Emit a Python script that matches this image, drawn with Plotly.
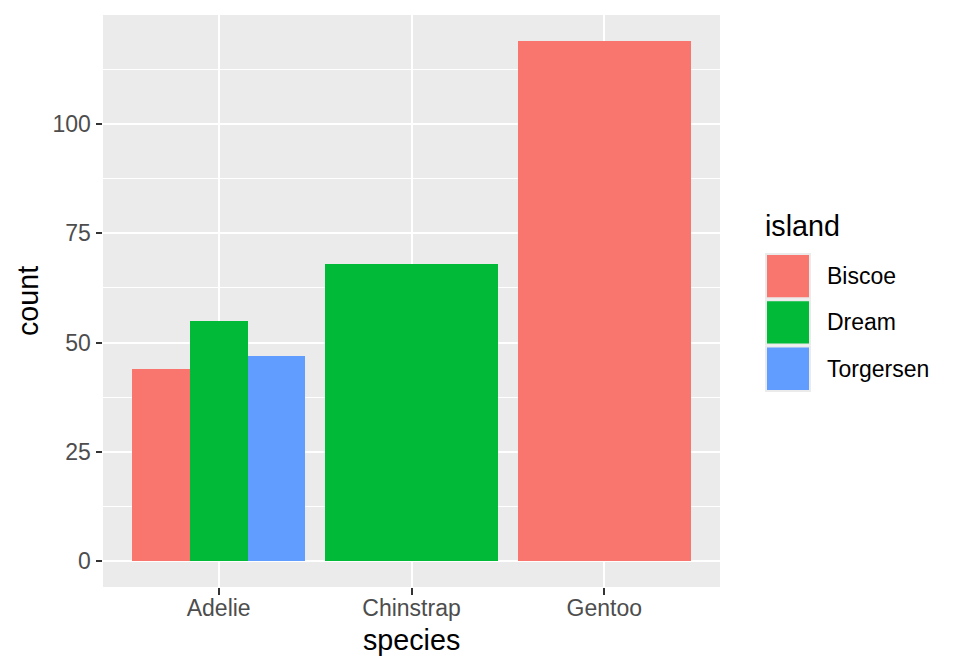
import plotly.graph_objects as go

### data (palmer penguins, rows with NA dropped)
species = ['Adelie', 'Chinstrap', 'Gentoo']
islands = ['Biscoe', 'Dream', 'Torgersen']
island_colors = ['#F8766D', '#00BA38', '#619CFF']
counts = {
    'Adelie': {'Biscoe': 44, 'Dream': 55, 'Torgersen': 47},
    'Chinstrap': {'Dream': 68},
    'Gentoo': {'Biscoe': 119},
}

### page geometry (pixels); the browser body adds an 8px offset
OFF = 8
W, H = 960 - OFF, 672 - OFF
L, R, T, B = 103, 720, 15, 587   # panel edges in page pixels

def px_x(p):
    return (p - L) / (R - L)

def px_y(p):
    return (B - p) / (B - T)

TICK = 23
TITLE = 28.7

fig = go.Figure()

# dodge bars inside each species like ggplot's position_dodge
for i, sp in enumerate(species, start=1):
    present = [isl for isl in islands if isl in counts[sp]]
    w = 0.9 / len(present)
    for k, isl in enumerate(present):
        fig.add_trace(go.Bar(
            x=[i - 0.45 + w * (k + 0.5)],
            y=[counts[sp][isl]],
            width=[w],
            marker=dict(color=island_colors[islands.index(isl)], line=dict(width=0)),
            showlegend=False,
            hoverinfo='y',
        ))

ymax = max(v for d in counts.values() for v in d.values())

fig.update_layout(
    width=W, height=H,
    margin=dict(l=L - OFF, r=W - (R - OFF), t=T - OFF, b=H - (B - OFF), pad=0),
    paper_bgcolor='white',
    plot_bgcolor='#EBEBEB',
    font=dict(family='Liberation Sans, Arial, sans-serif', size=TICK, color='#4D4D4D'),
    showlegend=False,
    bargap=0,
)

fig.update_xaxes(
    range=[0.4, 3.6],
    tickvals=[1, 2, 3], ticktext=species,
    showgrid=True, gridcolor='white', gridwidth=2.2,
    zeroline=False,
    ticks='outside', ticklen=6.5, tickwidth=2.2, tickcolor='#333333',
    ticklabelstandoff=-6,
    tickfont=dict(size=TICK, color='#4D4D4D'),
    showline=False,
)
fig.update_yaxes(
    range=[-0.05 * ymax, 1.05 * ymax],
    tickvals=[0, 25, 50, 75, 100],
    showgrid=True, gridcolor='white', gridwidth=2.2,
    minor=dict(tickvals=[12.5, 37.5, 62.5, 87.5, 112.5], showgrid=True, gridcolor='white', gridwidth=1.1),
    zeroline=False,
    ticks='outside', ticklen=6.5, tickwidth=2.2, tickcolor='#333333',
    tickfont=dict(size=TICK, color='#4D4D4D'),
    showline=False,
)

# axis titles
fig.add_annotation(text='species', xref='paper', yref='paper', x=0.5, y=px_y(640),
                   showarrow=False, font=dict(size=TITLE, color='black'), yanchor='middle')
fig.add_annotation(text='count', xref='paper', yref='paper', x=px_x(28), y=0.5,
                   showarrow=False, textangle=-90, font=dict(size=TITLE, color='black'), xanchor='center')

# legend drawn by hand, ggplot style
fig.add_annotation(text='island', xref='paper', yref='paper', x=px_x(763), y=px_y(226),
                   showarrow=False, xanchor='left', yanchor='middle', font=dict(size=TITLE, color='black'))
key_top, key_h = 253, 46.3
for k, isl in enumerate(islands):
    y0 = key_top + k * key_h
    fig.add_shape(type='rect', xref='paper', yref='paper',
                  x0=px_x(765), x1=px_x(811), y0=px_y(y0), y1=px_y(y0 + key_h),
                  fillcolor='#EBEBEB', line=dict(width=0), layer='above')
    fig.add_shape(type='rect', xref='paper', yref='paper',
                  x0=px_x(767), x1=px_x(809), y0=px_y(y0 + 2), y1=px_y(y0 + key_h - 2),
                  fillcolor=island_colors[k], line=dict(width=0), layer='above')
    fig.add_annotation(text=isl, xref='paper', yref='paper', x=px_x(825), y=px_y(y0 + key_h / 2),
                       showarrow=False, xanchor='left', yanchor='middle',
                       font=dict(size=TICK, color='black'))

fig.write_html('out.html')
